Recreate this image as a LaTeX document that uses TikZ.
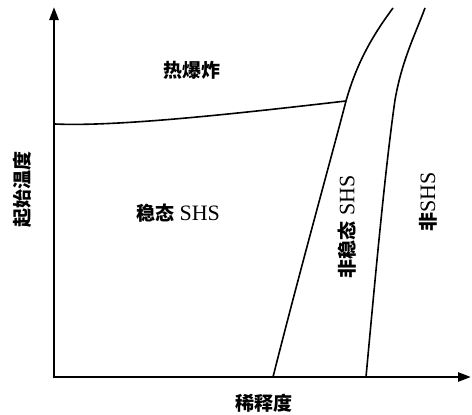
\documentclass[tikz,border=0pt]{standalone}
\usepackage{fontspec}
\setmainfont{Liberation Serif}
\newfontfamily\cjk{Noto Sans CJK SC}
\newcommand{\zh}[1]{{\fontsize{19}{19}\selectfont\cjk\bfseries #1}}
\usetikzlibrary{arrows.meta}
\tikzset{
  axis/.style={line width=2.6pt,-{Triangle[length=13pt,width=9pt]}},
  curve/.style={line width=1.6pt},
  lab/.style={font=\fontsize{19}{19}\selectfont\cjk\bfseries, inner sep=0pt},
  reg/.style={font=\fontsize{22}{22}\selectfont, inner sep=0pt}
}
\begin{document}
\begin{tikzpicture}[x=1pt,y=-1pt]
\useasboundingbox (0,0) rectangle (472,415);
\coordinate (O) at (54,377);
\coordinate (ytip) at (54,7);
\coordinate (xtip) at (471,377);
\coordinate (h0) at (55,124);
\coordinate (m) at (346,101);
\coordinate (c1b) at (273,377);
\coordinate (c1t) at (393,8);
\coordinate (c2b) at (366,377);
\coordinate (c2m) at (395,100);
\coordinate (c2t) at (425,8);
\draw[axis] ([yshift=-1.3pt]O) -- (ytip);
\draw[axis] ([xshift=-1.3pt]O) -- (xtip);
\draw[curve] (h0) .. controls (120,127) and (250,112) .. (m);
\draw[curve] (c1b) .. controls (300,270) and (332,155) .. (m) .. controls (357,62) and (373,35) .. (c1t);
\draw[curve] (c2b) .. controls (375,280) and (385,170) .. (c2m) .. controls (402,60) and (415,35) .. (c2t);
\node[lab] (rexp) at (192,70) {热爆炸};
\node[reg] (rstab) at (178,213) {\zh{稳态} SHS};
\node[reg, rotate=90] (runst) at (347,227) {\zh{非稳态} SHS};
\node[reg, rotate=90] (rnon) at (428,202) {\zh{非}SHS};
\node[lab, rotate=90] (ylab) at (22,189) {起始温度};
\node[lab] (xlab) at (264,403) {稀释度};
\end{tikzpicture}
\end{document}
